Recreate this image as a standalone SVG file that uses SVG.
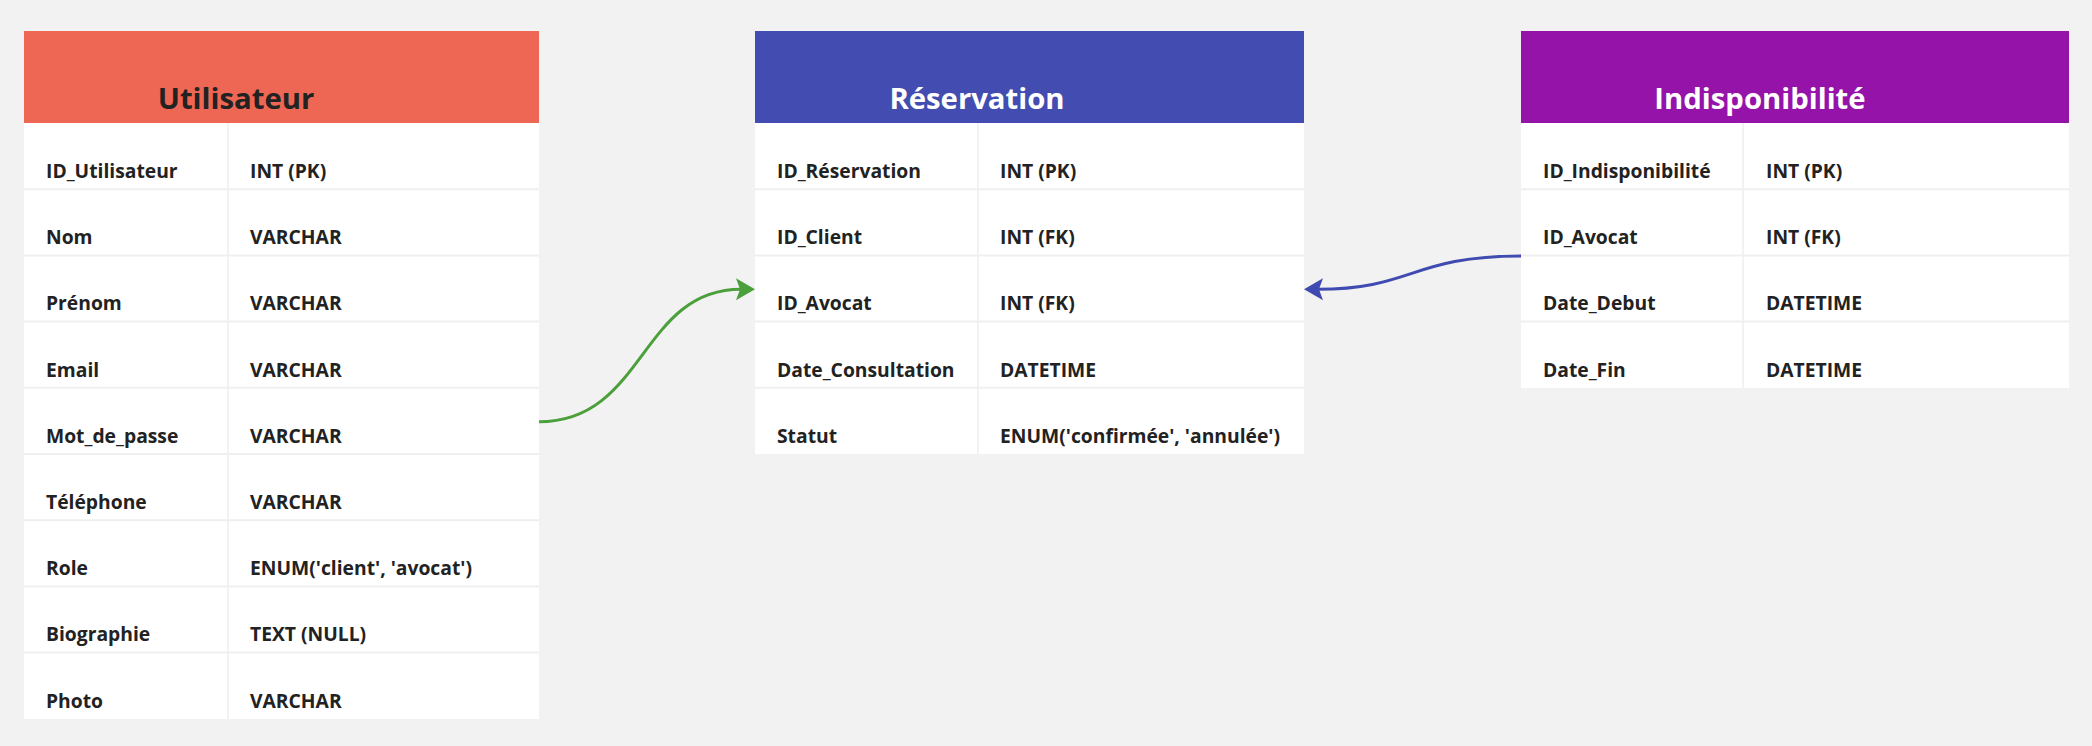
<svg xmlns="http://www.w3.org/2000/svg" width="2092" height="746" viewBox="0 0 2092 746">
<style>
.bg{fill:#f2f2f2}
.body{fill:#ffffff}
.sep{stroke:#efefef;stroke-width:2}
.col{stroke:#eeeeee;stroke-width:1.5}
.cell{font-family:"Open Sans","Noto Sans","Liberation Sans",sans-serif;font-weight:700;font-size:19.3px;fill:#222222}
.title{font-family:"Open Sans","Noto Sans","Liberation Sans",sans-serif;font-weight:700;font-size:29.3px;text-anchor:middle}
.conn{fill:none;stroke-width:3}
</style>
<defs>
<marker id="arrG" markerUnits="userSpaceOnUse" viewBox="-8 -14 26 28" markerWidth="26" markerHeight="28" refX="0" refY="0" orient="auto">
<path d="M14,0 L-5,-11 L-1,0 L-5,11 Z" fill="#4ca03c"/>
</marker>
<marker id="arrB" markerUnits="userSpaceOnUse" viewBox="-8 -14 26 28" markerWidth="26" markerHeight="28" refX="0" refY="0" orient="auto">
<path d="M14,0 L-5,-11 L-1,0 L-5,11 Z" fill="#3f4bb1"/>
</marker>
</defs>
<rect class="bg" x="0" y="0" width="2092" height="746"/>

<g id="utilisateur">
<rect class="body" x="24" y="123" width="515" height="596"/>
<rect x="24" y="31" width="515" height="92" fill="#ee6754"/>
<line class="col" x1="228" y1="123" x2="228" y2="719"/>
<line class="sep" x1="24" y1="189.2" x2="539" y2="189.2"/>
<line class="sep" x1="24" y1="255.4" x2="539" y2="255.4"/>
<line class="sep" x1="24" y1="321.6" x2="539" y2="321.6"/>
<line class="sep" x1="24" y1="387.8" x2="539" y2="387.8"/>
<line class="sep" x1="24" y1="454" x2="539" y2="454"/>
<line class="sep" x1="24" y1="520.2" x2="539" y2="520.2"/>
<line class="sep" x1="24" y1="586.4" x2="539" y2="586.4"/>
<line class="sep" x1="24" y1="652.6" x2="539" y2="652.6"/>
<text class="title" x="236" y="109" fill="#222222">Utilisateur</text>
<text class="cell" x="46" y="178">ID_Utilisateur</text><text class="cell" x="250" y="178">INT (PK)</text>
<text class="cell" x="46" y="244.2">Nom</text><text class="cell" x="250" y="244.2">VARCHAR</text>
<text class="cell" x="46" y="310.4">Prénom</text><text class="cell" x="250" y="310.4">VARCHAR</text>
<text class="cell" x="46" y="376.6">Email</text><text class="cell" x="250" y="376.6">VARCHAR</text>
<text class="cell" x="46" y="442.8">Mot_de_passe</text><text class="cell" x="250" y="442.8">VARCHAR</text>
<text class="cell" x="46" y="509">Téléphone</text><text class="cell" x="250" y="509">VARCHAR</text>
<text class="cell" x="46" y="575.2">Role</text><text class="cell" x="250" y="575.2">ENUM('client', 'avocat')</text>
<text class="cell" x="46" y="641.4">Biographie</text><text class="cell" x="250" y="641.4">TEXT (NULL)</text>
<text class="cell" x="46" y="707.6">Photo</text><text class="cell" x="250" y="707.6">VARCHAR</text>
</g>

<g id="reservation">
<rect class="body" x="755" y="123" width="549" height="331"/>
<rect x="755" y="31" width="549" height="92" fill="#434cb1"/>
<line class="col" x1="978" y1="123" x2="978" y2="454"/>
<line class="sep" x1="755" y1="189.2" x2="1304" y2="189.2"/>
<line class="sep" x1="755" y1="255.4" x2="1304" y2="255.4"/>
<line class="sep" x1="755" y1="321.6" x2="1304" y2="321.6"/>
<line class="sep" x1="755" y1="387.8" x2="1304" y2="387.8"/>
<text class="title" x="977" y="109" fill="#ffffff">Réservation</text>
<text class="cell" x="777" y="178">ID_Réservation</text><text class="cell" x="1000" y="178">INT (PK)</text>
<text class="cell" x="777" y="244.2">ID_Client</text><text class="cell" x="1000" y="244.2">INT (FK)</text>
<text class="cell" x="777" y="310.4">ID_Avocat</text><text class="cell" x="1000" y="310.4">INT (FK)</text>
<text class="cell" x="777" y="376.6">Date_Consultation</text><text class="cell" x="1000" y="376.6">DATETIME</text>
<text class="cell" x="777" y="442.8">Statut</text><text class="cell" x="1000" y="442.8">ENUM('confirmée', 'annulée')</text>
</g>

<g id="indisponibilite">
<rect class="body" x="1521" y="123" width="548" height="264.8"/>
<rect x="1521" y="31" width="548" height="92" fill="#9613aa"/>
<line class="col" x1="1743" y1="123" x2="1743" y2="387.8"/>
<line class="sep" x1="1521" y1="189.2" x2="2069" y2="189.2"/>
<line class="sep" x1="1521" y1="255.4" x2="2069" y2="255.4"/>
<line class="sep" x1="1521" y1="321.6" x2="2069" y2="321.6"/>
<text class="title" x="1760" y="109" fill="#ffffff">Indisponibilité</text>
<text class="cell" x="1543" y="178">ID_Indisponibilité</text><text class="cell" x="1766" y="178">INT (PK)</text>
<text class="cell" x="1543" y="244.2">ID_Avocat</text><text class="cell" x="1766" y="244.2">INT (FK)</text>
<text class="cell" x="1543" y="310.4">Date_Debut</text><text class="cell" x="1766" y="310.4">DATETIME</text>
<text class="cell" x="1543" y="376.6">Date_Fin</text><text class="cell" x="1766" y="376.6">DATETIME</text>
</g>

<g id="connectors">
<path class="conn" stroke="#4ca03c" d="M539,421.7 C645,421.7 640,289.3 741,289.3" marker-end="url(#arrG)"/>
<path class="conn" stroke="#3f4bb1" d="M1521,256 C1412,256 1412,289.3 1318,289.3" marker-end="url(#arrB)"/>
</g>
</svg>
